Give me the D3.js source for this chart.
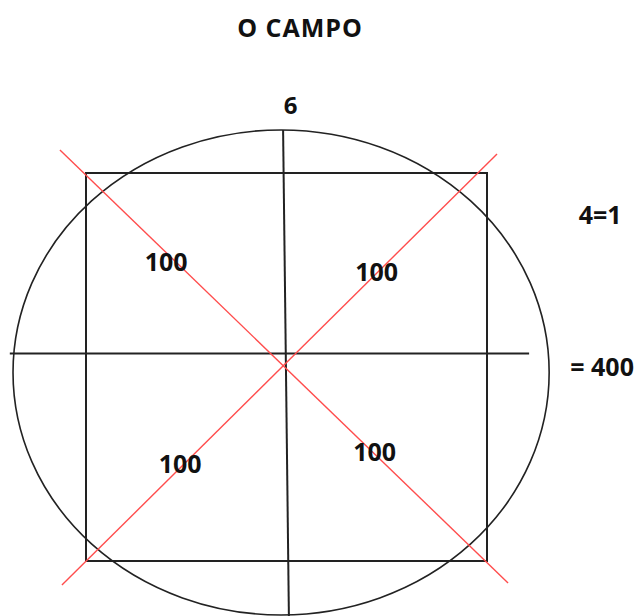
<!DOCTYPE html>
<html>
<head>
<meta charset="utf-8">
<script src="https://cdn.jsdelivr.net/npm/d3@7"></script>
<style>
  body { margin: 0; background: #fff; }
  text { font-family: "Open Sans", "Noto Sans", sans-serif; font-weight: bold; fill: #111; }
</style>
</head>
<body>
<div id="chart"></div>
<script>
var width = 639
var height = 616

// field units: the square goes from -1 to 1 on both axes
var quadrantLabels = ["100", "100", "100", "100"]
var quadrantX = [-0.60, 0.45, -0.53, 0.44]
var quadrantY = [0.54, 0.49, -0.50, -0.44]
var sideNotes = ["4=1", "= 400"]
var sideNoteX = [1.564, 1.574]
var sideNoteY = [0.784, 0.0]
var title = "O CAMPO"
var topMark = "6"

// hand drawn lines (x1, y1, x2, y2)
var blackLines = [
    [-1.38, 0.07, 1.21, 0.07],
    [-0.017, 1.222, 0.012, -1.284]
]
var redLines = [
    [-1.13, 1.119, 1.105, -1.113],
    [-1.12, -1.124, 1.05, 1.098]
]
var circle = { cx: -0.027, cy: -0.028, rx: 1.337, ry: 1.25 }

var x = d3.scaleLinear().domain([-1, 1]).range([86, 487])
var y = d3.scaleLinear().domain([1, -1]).range([173, 561])

var svg = d3.select("#chart")
    .append("svg")
    .attr("width", width)
    .attr("height", height)

svg.append("text")
    .attr("x", 300)
    .attr("y", 37)
    .attr("text-anchor", "middle")
    .style("font-size", "25px")
    .style("letter-spacing", "1px")
    .text(title)

// the square
svg.append("rect")
    .attr("x", x(-1))
    .attr("y", y(1))
    .attr("width", x(1) - x(-1))
    .attr("height", y(-1) - y(1))
    .style("fill", "none")
    .style("stroke", "#222")
    .style("stroke-width", 2)

svg.append("ellipse")
    .attr("cx", x(circle.cx))
    .attr("cy", y(circle.cy))
    .attr("rx", x(circle.rx) - x(0))
    .attr("ry", y(0) - y(circle.ry))
    .style("fill", "none")
    .style("stroke", "#222")
    .style("stroke-width", 1.6)

svg.append("g")
    .selectAll("line")
    .data(blackLines)
    .enter()
    .append("line")
        .attr("x1", d => x(d[0]))
        .attr("y1", d => y(d[1]))
        .attr("x2", d => x(d[2]))
        .attr("y2", d => y(d[3]))
        .style("stroke", "#222")
        .style("stroke-width", 2)

svg.append("g")
    .selectAll("line")
    .data(redLines)
    .enter()
    .append("line")
        .attr("x1", d => x(d[0]))
        .attr("y1", d => y(d[1]))
        .attr("x2", d => x(d[2]))
        .attr("y2", d => y(d[3]))
        .style("stroke", "#ff4d4d")
        .style("stroke-width", 1.4)

svg.append("text")
    .attr("x", x(0.02))
    .attr("y", 114)
    .attr("text-anchor", "middle")
    .style("font-size", "24px")
    .text(topMark)

svg.append("g")
    .selectAll("text")
    .data(quadrantLabels)
    .enter()
    .append("text")
        .attr("x", (d, i) => x(quadrantX[i]))
        .attr("y", (d, i) => y(quadrantY[i]))
        .attr("dy", ".35em")
        .attr("text-anchor", "middle")
        .style("font-size", "25px")
        .text(d => d)

svg.append("g")
    .selectAll("text")
    .data(sideNotes)
    .enter()
    .append("text")
        .attr("x", (d, i) => x(sideNoteX[i]))
        .attr("y", (d, i) => y(sideNoteY[i]))
        .attr("dy", ".35em")
        .attr("text-anchor", "middle")
        .style("font-size", "25px")
        .text(d => d)
</script>
</body>
</html>
